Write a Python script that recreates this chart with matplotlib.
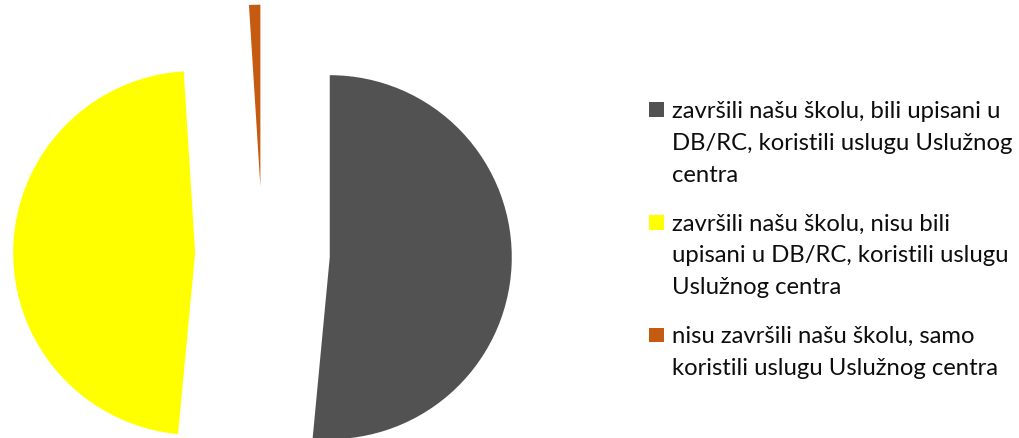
import matplotlib
matplotlib.use("Agg")
import matplotlib.pyplot as plt
from matplotlib.patches import Rectangle

# ---- data ----
categories = [
    "završili našu školu, bili upisani u DB/RC, koristili uslugu Uslužnog centra",
    "završili našu školu, nisu bili upisani u DB/RC, koristili uslugu Uslužnog centra",
    "nisu završili našu školu, samo koristili uslugu Uslužnog centra",
]
legend_lines = [
    ["završili našu školu, bili upisani u", "DB/RC, koristili uslugu Uslužnog", "centra"],
    ["završili našu školu, nisu bili", "upisani u DB/RC, koristili uslugu", "Uslužnog centra"],
    ["nisu završili našu školu, samo", "koristili uslugu Uslužnog centra"],
]
values = [51.5, 47.5, 1.0]
colors = ["#525252", "#FFFF00", "#C55A11"]

# ---- layout ----
W, H = 1019, 439
fig = plt.figure(figsize=(W / 100, H / 100), dpi=100)
R = 182.0          # pie radius in px
cx, cy = 262.5, 255.0  # pie centre in px (from top)
ax = fig.add_axes([0, 0, 1, 1])

ax.pie(values, colors=colors, startangle=90, counterclock=False,
       radius=1.0, explode=[0.37, 0.37, 0.37],
       wedgeprops=dict(linewidth=0, antialiased=True))
ax.set_aspect("auto")
ax.set_xlim(-cx / R, (W - cx) / R)
ax.set_ylim(-(H - cy) / R, cy / R)
ax.axis("off")

# ---- legend (manual, Excel-like) ----
font = "Lato"
fs = 15.0
probe = fig.text(0, 0, legend_lines[0][1], fontsize=fs, family=font)
fig.canvas.draw()
wpx = probe.get_window_extent().width
probe.remove()
fs = fs * 341.0 / wpx

text_x = 672
sq_x, sq = 649, 14.5
baselines = [[118, 150, 182], [230.5, 262.5, 294.5], [343, 375]]
for lines, bls, col in zip(legend_lines, baselines, colors):
    fig.patches.append(Rectangle((sq_x / W, 1 - (bls[0]) / H), sq / W, sq / H,
                                 transform=fig.transFigure, facecolor=col,
                                 edgecolor="none", figure=fig, zorder=5))
    for line, b in zip(lines, bls):
        fig.text(text_x / W, 1 - b / H, line, fontsize=fs, family=font,
                 color="#0d0d0d", va="baseline", ha="left")

fig.savefig("out.png", dpi=100, facecolor="white")
